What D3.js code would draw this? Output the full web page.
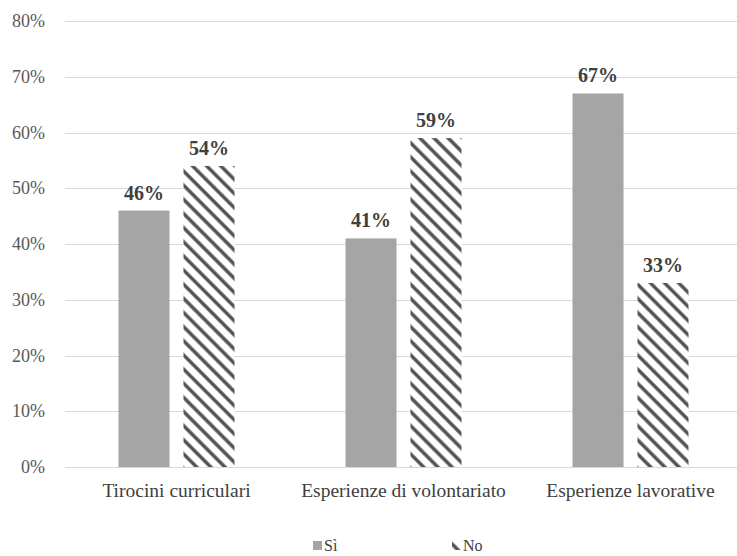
<!DOCTYPE html>
<html><head><meta charset="utf-8">
<script src="https://cdn.jsdelivr.net/npm/d3@7"></script>
<style>html,body{margin:0;padding:0;background:#fff;}</style>
</head><body>
<svg id="c" width="737" height="556"></svg>
<script>
const categories = ["Tirocini curriculari", "Esperienze di volontariato", "Esperienze lavorative"];
const seriesNames = ["Sì", "No"];
const siValues = [46, 41, 67];
const noValues = [54, 59, 33];
const yTicks = [0, 10, 20, 30, 40, 50, 60, 70, 80];

const svg = d3.select("#c");
const font = "'Liberation Serif', 'Times New Roman', Times, serif";

const defs = svg.append("defs");
const pat = defs.append("pattern").attr("id", "hatch")
  .attr("patternUnits", "userSpaceOnUse").attr("width", 10).attr("height", 10)
  .attr("patternTransform", "rotate(-45)");
pat.append("rect").attr("width", 10).attr("height", 10).attr("fill", "#fff");
pat.append("line").attr("x1", 5).attr("x2", 5).attr("y1", -1).attr("y2", 11)
  .attr("stroke", "#4f4f4f").attr("stroke-width", 3.4);

const y = d3.scaleLinear().domain([0, 80]).range([467, 21]);
const x0 = d3.scaleBand().domain(categories).range([63, 744]).paddingInner(0.489).paddingOuter(0.2445);
const x1 = d3.scaleBand().domain(seriesNames).range([0, x0.bandwidth()]).paddingInner(0.215).paddingOuter(0);

// gridlines
svg.append("g").selectAll("line").data(yTicks).join("line")
  .attr("x1", 65).attr("x2", 737)
  .attr("y1", d => Math.round(y(d)) + 0.5).attr("y2", d => Math.round(y(d)) + 0.5)
  .attr("stroke", "#d9d9d9").attr("stroke-width", 1);

// y tick labels
svg.append("g").selectAll("text").data(yTicks).join("text")
  .attr("x", 45).attr("y", d => y(d) + 6)
  .attr("text-anchor", "end").attr("font-family", font).attr("font-size", 18)
  .attr("fill", "#595959").text(d => d + "%");

const data = categories.map((c, i) => ({cat: c, vals: [
  {s: "Sì", v: siValues[i]}, {s: "No", v: noValues[i]}]}));

const groups = svg.append("g").selectAll("g").data(data).join("g")
  .attr("transform", d => `translate(${x0(d.cat)},0)`);

groups.selectAll("rect").data(d => d.vals).join("rect")
  .attr("x", d => x1(d.s)).attr("width", x1.bandwidth())
  .attr("y", d => y(d.v)).attr("height", d => y(0) - y(d.v))
  .attr("fill", d => d.s === "Sì" ? "#a5a5a5" : "url(#hatch)");

groups.selectAll("text").data(d => d.vals).join("text")
  .attr("x", d => x1(d.s) + x1.bandwidth() / 2).attr("y", d => y(d.v) - 11)
  .attr("text-anchor", "middle").attr("font-family", font).attr("font-size", 20)
  .attr("font-weight", "bold").attr("fill", "#404040").text(d => d.v + "%");

// category labels
svg.append("g").selectAll("text").data(categories).join("text")
  .attr("x", d => x0(d) + x0.bandwidth() / 2).attr("y", 497)
  .attr("text-anchor", "middle").attr("font-family", font).attr("font-size", 19.5)
  .attr("fill", "#404040").text(d => d);

// legend
const leg = svg.append("g");
const legX = [313, 452];
seriesNames.forEach((s, i) => {
  leg.append("rect").attr("x", legX[i]).attr("y", 541).attr("width", 9).attr("height", 9)
    .attr("fill", s === "Sì" ? "#a5a5a5" : "url(#hatch)");
  leg.append("text").attr("x", legX[i] + 11).attr("y", 551)
    .attr("font-family", font).attr("font-size", 16).attr("fill", "#404040").text(s);
});
</script>
</body></html>
